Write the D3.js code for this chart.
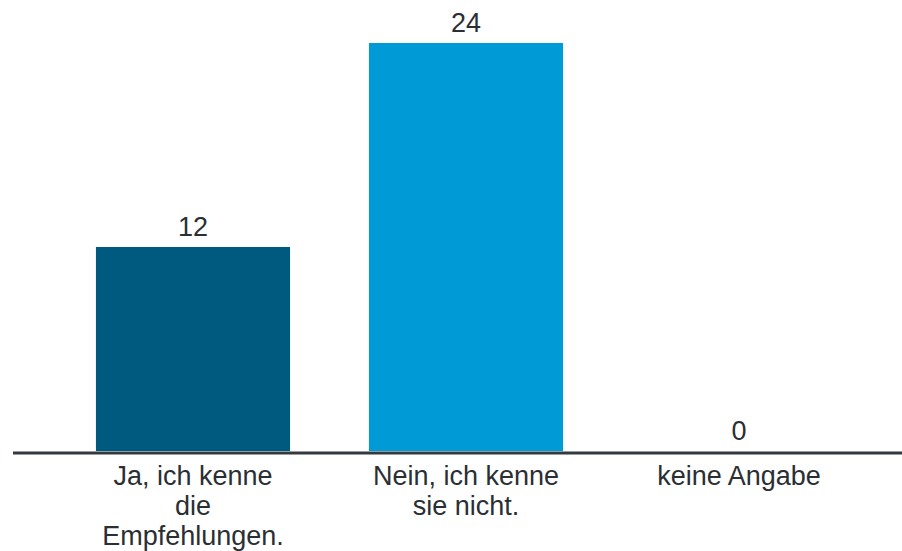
<!DOCTYPE html>
<html>
<head>
<meta charset="utf-8">
<script src="https://cdn.jsdelivr.net/npm/d3@7"></script>
<style>
  html, body { margin: 0; padding: 0; background: #ffffff; }
  svg { display: block; }
  text { font-family: "Liberation Sans", Arial, sans-serif; fill: #2b2f33; }
</style>
</head>
<body>
<svg id="chart" width="902" height="551"></svg>
<script>
const categories = ["Ja, ich kenne die Empfehlungen.", "Nein, ich kenne sie nicht.", "keine Angabe"];
const values = [12, 24, 0];
const colors = ["#00597f", "#009bd6", "#7fc4e6"];

const W = 902, H = 551;
const baseY = 451;
const svg = d3.select("#chart");

const x = d3.scaleBand()
  .domain(categories)
  .range([56.5, 875.5])
  .paddingInner(0.289)
  .paddingOuter(0.1445);

const y = d3.scaleLinear()
  .domain([0, 24])
  .range([baseY, 43]);

// bars
svg.append("g").selectAll("rect")
  .data(categories)
  .join("rect")
  .attr("x", d => x(d))
  .attr("width", x.bandwidth())
  .attr("y", (d, i) => y(values[i]))
  .attr("height", (d, i) => y(0) - y(values[i]))
  .attr("fill", (d, i) => colors[i]);

// value labels
svg.append("g").selectAll("text")
  .data(categories)
  .join("text")
  .attr("x", d => x(d) + x.bandwidth() / 2)
  .attr("y", (d, i) => y(values[i]) - 11)
  .attr("text-anchor", "middle")
  .attr("font-size", 27)
  .text((d, i) => values[i]);

// baseline
svg.append("line")
  .attr("x1", 13).attr("x2", W)
  .attr("y1", y(0) + 2).attr("y2", y(0) + 2)
  .attr("stroke", "#33393f")
  .attr("stroke-width", 3);

// x axis labels
const axis = d3.axisBottom(x).tickSize(0).tickPadding(0);
const gx = svg.append("g")
  .attr("transform", `translate(0,${baseY})`)
  .call(axis);
gx.select(".domain").remove();

gx.selectAll(".tick text")
  .attr("font-size", 27)
  .attr("font-family", "Liberation Sans, Arial, sans-serif")
  .attr("fill", "#2b2f33")
  .each(function(d) {
    const t = d3.select(this);
    const words = d.split(/\s+/);
    t.text(null);
    let lines = [], line = [];
    const tmp = t.append("tspan");
    words.forEach(w => {
      line.push(w);
      tmp.text(line.join(" "));
      if (tmp.node().getComputedTextLength() > x.bandwidth() && line.length > 1) {
        line.pop();
        lines.push(line.join(" "));
        line = [w];
      }
    });
    lines.push(line.join(" "));
    tmp.remove();
    t.attr("y", 0).attr("dy", null);
    lines.forEach((l, i) => {
      t.append("tspan")
        .attr("x", 0)
        .attr("y", 34 + i * 30)
        .text(l);
    });
  });
</script>
</body>
</html>
